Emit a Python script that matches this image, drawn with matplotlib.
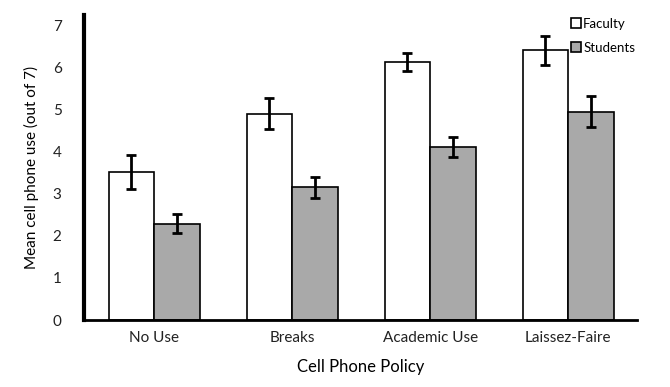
import numpy as np
import matplotlib; matplotlib.use("Agg")
import matplotlib.pyplot as plt
from matplotlib.patches import Patch

plt.rcParams['font.family'] = ['Lato', 'DejaVu Sans']

policies = ["No Use", "Breaks", "Academic Use", "Laissez-Faire"]
faculty = [3.52, 4.90, 6.12, 6.40]
faculty_err = [0.41, 0.37, 0.21, 0.35]
students = [2.29, 3.15, 4.10, 4.95]
students_err = [0.23, 0.25, 0.24, 0.36]

fig = plt.figure(figsize=(6.7, 3.87), dpi=100)
ax = fig.add_axes([0.125, 0.173, 0.826, 0.788])

x = np.arange(len(policies))
w = 0.33
ekw = dict(elinewidth=2, capthick=2, capsize=3.5, ecolor="black")
ax.bar(x - w/2, faculty, w, yerr=faculty_err, color="white", edgecolor="black",
       linewidth=1.2, error_kw=ekw, label="Faculty")
ax.bar(x + w/2, students, w, yerr=students_err, color="#a9a9a9", edgecolor="black",
       linewidth=1.2, error_kw=ekw, label="Students")

ax.set_xlim(-0.51, 3.5)
ax.set_ylim(0, 7.24)
ax.set_yticks(range(8))
ax.set_xticks(x)
ax.set_xticklabels(policies, fontsize=11)
ax.tick_params(axis="both", length=0, labelsize=11, colors="#222222")
ax.tick_params(axis="y", pad=16)
ax.tick_params(axis="x", pad=8)

for s in ["top", "right"]:
    ax.spines[s].set_visible(False)
ax.spines["left"].set_linewidth(3)
ax.spines["bottom"].set_linewidth(2)

ax.set_ylabel("Mean cell phone use (out of 7)", fontsize=11, labelpad=10)
ax.set_xlabel("Cell Phone Policy", fontsize=12, labelpad=10)

handles = [Patch(facecolor="white", edgecolor="black", lw=1.2, label="Faculty"),
           Patch(facecolor="#a9a9a9", edgecolor="black", lw=1.2, label="Students")]
fig.legend(handles=handles, loc="upper left", bbox_to_anchor=(0.835, 0.985), frameon=False,
           fontsize=9.5, handlelength=0.7, handleheight=0.7, handletextpad=0.2,
           labelspacing=0.9)

fig.savefig("out.png", dpi=100)
